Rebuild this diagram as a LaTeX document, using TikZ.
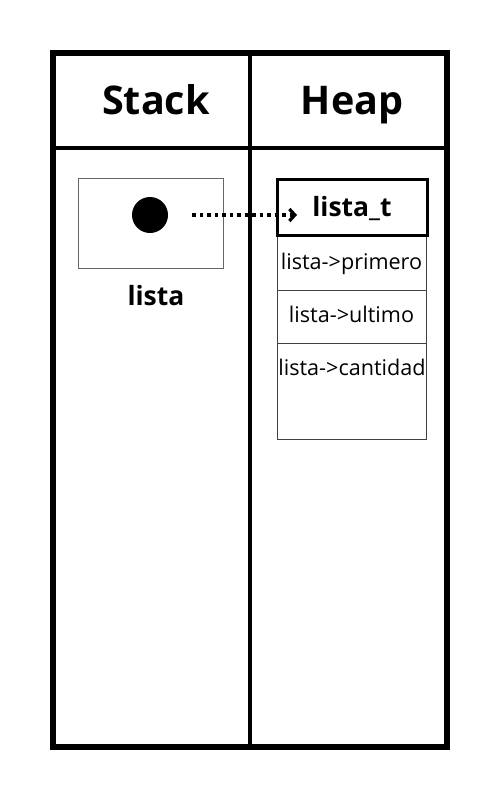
\documentclass[tikz,border=0pt]{standalone}
\usepackage{fontspec}
\setmainfont{Open Sans}
\usetikzlibrary{arrows.meta}
\begin{document}
\begin{tikzpicture}[x=1pt,y=-1pt,
  frame/.style={line width=6pt},
  divider/.style={line width=4pt},
  title/.style={font=\fontsize{39.5}{44}\selectfont\bfseries, inner sep=0pt, anchor=base},
  lbl/.style={font=\fontsize{26.5}{30}\selectfont\bfseries, inner sep=0pt, anchor=base},
  field/.style={font=\fontsize{21.6}{26}\selectfont, inner sep=0pt, anchor=base},
  cell/.style={draw=black!75, line width=0.8pt},
  ptr/.style={line width=3.5pt, dash pattern=on 3.5pt off 4pt, -{Straight Barb[length=5.5pt,width=12pt,line width=3.2pt]}}]
\useasboundingbox (0,0) rectangle (500,800);
% frame
\draw[frame] (53,53) rectangle (447,747);
\draw[divider] (250,53) -- (250,747);
\draw[divider] (53,148) -- (447,148);
\node[title] (stack) at (156,114) {Stack};
\node[title] (heap) at (352,114) {Heap};
% stack variable
\node[cell, draw=black!60, minimum width=145pt, minimum height=90pt, inner sep=0pt] (var) at (150.5,223) {};
\node[circle, fill=black, minimum size=36pt, inner sep=0pt] (dot) at (150,215) {};
\node[lbl] (varname) at (156,305) {lista};
% heap struct
\node[cell, minimum width=149pt, minimum height=204pt, inner sep=0pt] (body) at (351.5,337) {};
\draw[cell] (277,290) coordinate (s1l) -- (426,290) coordinate (s1r);
\draw[cell] (277,343) coordinate (s2l) -- (426,343) coordinate (s2r);
\node[draw, line width=3pt, minimum width=150pt, minimum height=56pt, inner sep=0pt, fill=white] (head) at (352.5,207) {};
\node[lbl] (type) at (352,216) {lista\_t};
\node[field] (f1) at (351.5,269) {lista->primero};
\node[field] (f2) at (351.5,322) {lista->ultimo};
\node[field] (f3) at (352,375) {lista->cantidad};
% pointer
\coordinate (ps) at (192,215);
\coordinate (pe) at (297,215);
\draw[ptr] (ps) -- (pe);
\end{tikzpicture}
\end{document}
